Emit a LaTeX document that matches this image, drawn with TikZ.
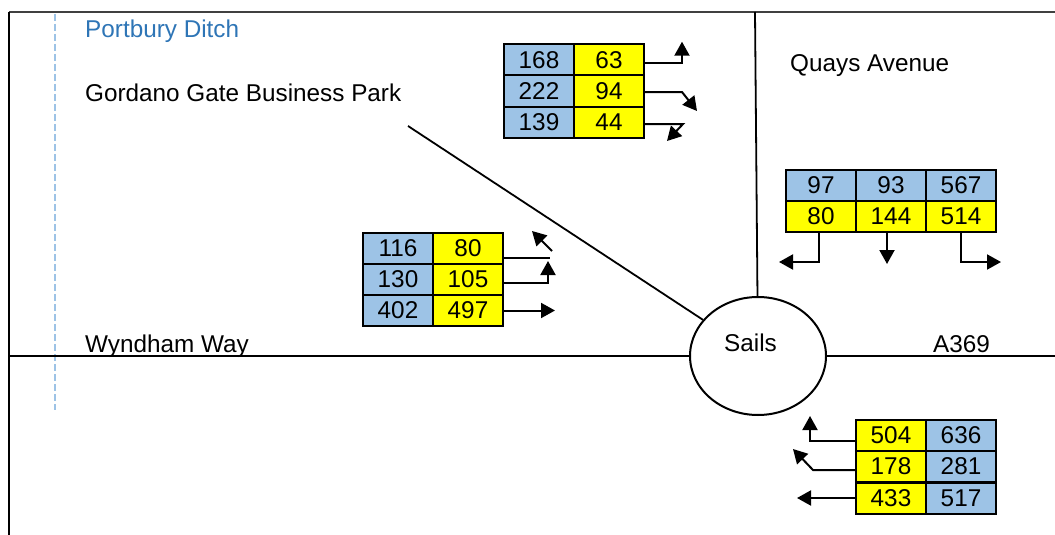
\documentclass[tikz,border=0pt]{standalone}
\usepackage{fontspec}
\setmainfont{Liberation Sans}
\usetikzlibrary{arrows.meta,shapes.geometric,calc}
\definecolor{cellblue}{HTML}{9DC3E6}
\definecolor{cellyellow}{HTML}{FFFF00}
\definecolor{ditchblue}{HTML}{2E75B6}
\definecolor{framegray}{HTML}{404040}
\begin{document}
\begin{tikzpicture}[x=1pt,y=-1pt,
  font=\fontsize{24.3}{28}\selectfont,
  cell/.style={draw, line width=2pt, minimum width=70pt, minimum height=31pt, inner sep=0pt, outer sep=0pt},
  bc/.style={cell, fill=cellblue},
  yc/.style={cell, fill=cellyellow},
  lbl/.style={anchor=base west, inner sep=0pt},
  road/.style={line width=1.8pt},
  arr/.style={line width=2pt, -{Triangle[length=14pt,width=15pt]}},
  ln/.style={line width=2pt}]
\useasboundingbox (0,0) rectangle (1055,535);

% frame
\draw[framegray, line width=1.2pt] (9,12) -- (1055,12);
\draw[line width=1.6pt] (9,12) -- (9,535);

% ditch
\draw[cellblue, line width=2pt, dash pattern=on 7pt off 3pt] (55,14) -- (55,410);

% roundabout and roads
\node[draw, ellipse, line width=2pt, minimum width=136pt, minimum height=118pt, inner sep=0pt] (sails) at (758,356) {};
\node[lbl] (sailslbl) at (724,351) {Sails};
\coordinate (wwend) at (9,356);
\coordinate (a369end) at (1055,356);
\coordinate (qaend) at (755,12);
\coordinate (ggend) at (408,126);
\draw[road] (wwend) -- (sails.west);
\draw[road] (sails.east) -- (a369end);
\draw[road] (qaend) -- (sails);
\draw[road] (ggend) -- (sails);

% labels
\node[lbl, text=ditchblue] (pd) at (85,38) {Portbury Ditch};
\node[lbl] (gg) at (85,101) {Gordano Gate Business Park};
\node[lbl] (qa) at (790,71) {Quays Avenue};
\node[lbl] (ww) at (85,352) {Wyndham Way};
\node[lbl] (a369) at (933,352) {A369};

% top table
\node[bc] (ta1) at (539,59.7) {168};
\node[yc] (tb1) at (609,59.7) {63};
\node[bc] (ta2) at (539,91) {222};
\node[yc] (tb2) at (609,91) {94};
\node[bc] (ta3) at (539,122.3) {139};
\node[yc] (tb3) at (609,122.3) {44};
\draw[arr] ($(tb1.east)+(0,3)$) -- ++(38,0) -- ++(0,-21);
\draw[arr] ($(tb2.east)+(0,1)$) -- ++(38,0) -- ++(15,19);
\draw[arr] ($(tb3.east)+(0,1.7)$) -- ++(39,0) -- ++(-16,17);

% left table
\node[bc] (la1) at (398,248.5) {116};
\node[yc] (lb1) at (468,248.5) {80};
\node[bc] (la2) at (398,279.5) {130};
\node[yc] (lb2) at (468,279.5) {105};
\node[bc] (la3) at (398,310.5) {402};
\node[yc] (lb3) at (468,310.5) {497};
\coordinate (l1bend) at (550,258);
\coordinate (l1tail) at (552,251);
\draw[ln] ($(lb1.east)+(0,9.5)$) -- (l1bend);
\draw[arr] (l1tail) -- ++(-20,-20);
\draw[arr] ($(lb2.east)+(0,3.5)$) -- ++(45,0) -- ++(0,-22);
\draw[arr] (lb3.east) -- ++(52,0);

% right table
\node[bc] (ra1) at (821,185.5) {97};
\node[bc] (ra2) at (891,185.5) {93};
\node[bc] (ra3) at (961,185.5) {567};
\node[yc] (rb1) at (821,216.5) {80};
\node[yc] (rb2) at (891,216.5) {144};
\node[yc] (rb3) at (961,216.5) {514};
\draw[arr] ($(rb1.south)+(-2,0)$) -- ++(0,30) -- ++(-40,0);
\draw[arr] ($(rb2.south)+(-4,0)$) -- ++(0,32);
\draw[arr] (rb3.south) -- ++(0,30) -- ++(40,0);

% bottom right table
\node[yc] (ba1) at (891,435.5) {504};
\node[bc] (bb1) at (961,435.5) {636};
\node[yc] (ba2) at (891,466.5) {178};
\node[bc] (bb2) at (961,466.5) {281};
\node[yc] (ba3) at (891,498) {433};
\node[bc] (bb3) at (961,498) {517};
\draw[arr] ($(ba1.west)+(0,5.5)$) -- ++(-46,0) -- ++(0,-25);
\draw[arr] ($(ba2.west)+(0,3.5)$) -- ++(-43,0) -- ++(-20,-21);
\draw[arr] (ba3.west) -- ++(-59,0);
\end{tikzpicture}
\end{document}
